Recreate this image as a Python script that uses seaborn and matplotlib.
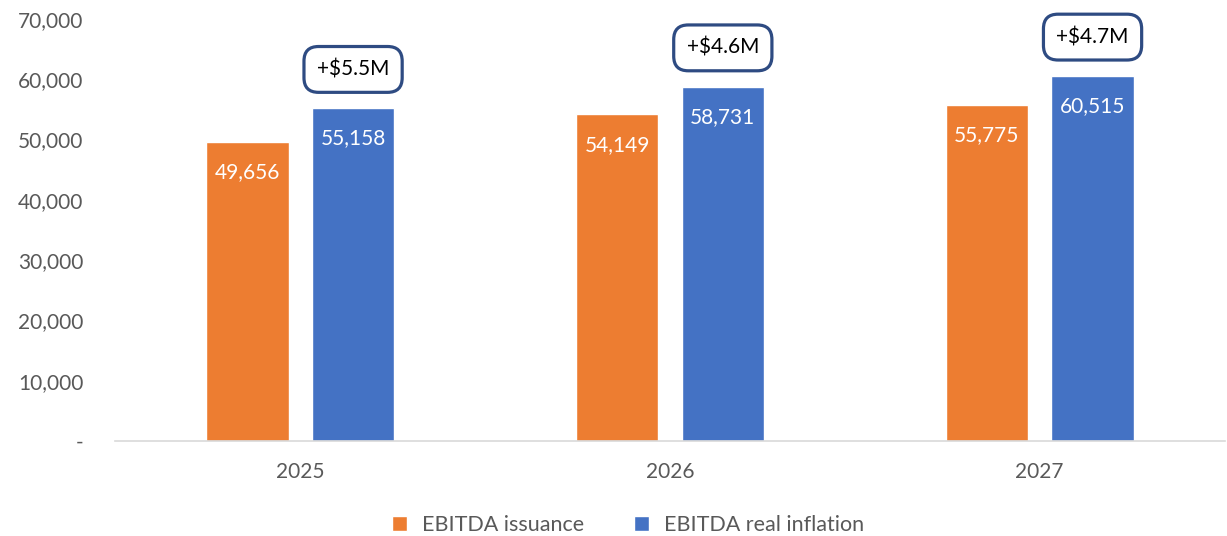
import matplotlib
matplotlib.use("Agg")
import matplotlib.pyplot as plt
import seaborn as sns
import pandas as pd

# chart values
years = ["2025", "2026", "2027"]
issuance = [49656, 54149, 55775]
real_inflation = [55158, 58731, 60515]
deltas = ["+$5.5M", "+$4.6M", "+$4.7M"]

orange = "#ED7D31"
blue = "#4472C4"
grey = "#595959"

sns.set_theme(style="white")
plt.rcParams['font.family'] = ['Lato', 'DejaVu Sans']

df = pd.DataFrame({
    "year": years * 2,
    "value": issuance + real_inflation,
    "series": ["EBITDA issuance"] * 3 + ["EBITDA real inflation"] * 3,
})

fig = plt.figure(figsize=(12.27, 5.36), dpi=100)
ax = fig.add_axes([0.094, 0.177, 0.904, 0.788])

sns.barplot(data=df, x="year", y="value", hue="series",
            palette=[orange, blue], width=0.572, gap=0.22,
            saturation=1, ax=ax, legend=True)

ax.set_ylim(0, 70000)
ax.set_xlim(-0.5, 2.5)
ax.set_yticks(range(0, 70001, 10000))
ax.set_yticklabels(["-"] + [f"{v:,}" for v in range(10000, 70001, 10000)])
ax.set_xlabel("")
ax.set_ylabel("")
ax.tick_params(axis="both", colors=grey, labelsize=15, length=0)
ax.tick_params(axis="y", pad=23)
ax.tick_params(axis="x", pad=15)

for s in ["top", "right", "left"]:
    ax.spines[s].set_visible(False)
ax.spines["bottom"].set_color("#D9D9D9")
ax.spines["bottom"].set_linewidth(1.2)

# value labels inside the bars
for cont in ax.containers:
    ax.bar_label(cont, labels=[f"{v:,.0f}" for v in cont.datavalues],
                 label_type="edge", padding=-29, color="white", fontsize=15)

# difference boxes above the blue bars
blue_bars = ax.containers[1]
for bar, txt in zip(blue_bars, deltas):
    x = bar.get_x() + bar.get_width() / 2
    ax.annotate(txt, xy=(x, bar.get_height()), xytext=(0, 28),
                textcoords="offset points", ha="center", va="center",
                fontsize=15, color="black",
                bbox=dict(boxstyle="round,pad=0.62,rounding_size=0.7",
                          fc="white", ec="#2E4B82", lw=2.3))

handles, labels = ax.get_legend_handles_labels()
ax.get_legend().remove()
leg = fig.legend(handles, labels, loc="center", bbox_to_anchor=(0.512, 0.02),
                 ncol=2, frameon=False, fontsize=15.5, handlelength=0.7,
                 handleheight=0.7, columnspacing=2.3, handletextpad=0.7)
for t in leg.get_texts():
    t.set_color(grey)

fig.savefig("out.png", dpi=100)
